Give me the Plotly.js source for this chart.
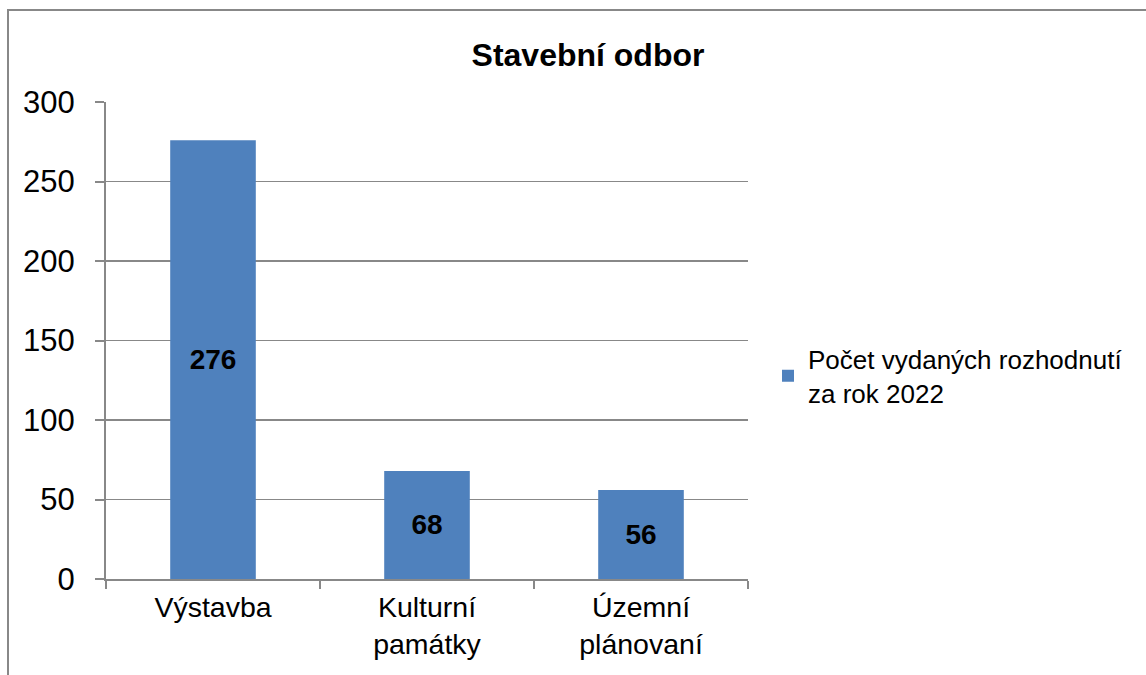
<!DOCTYPE html>
<html>
<head>
<meta charset="utf-8">
<script src="https://cdn.plot.ly/plotly-3.0.1.min.js"></script>
<style>
html,body{margin:0;padding:0;background:#fff;}
#chart{width:1146px;height:675px;}
</style>
</head>
<body>
<div id="chart"></div>
<script>
const categories = ["Výstavba", "Kulturní<br>památky", "Územní<br>plánovaní"];
const values = [276, 68, 56];
const seriesName = "Počet vydaných rozhodnutí<br>za rok 2022";
const chartTitle = "Stavební odbor";
const yTicks = [0, 50, 100, 150, 200, 250, 300];

const L = 106, R = 748, T = 102, B = 579, W = 1146, H = 675;
const px = x => (x - L) / (R - L);
const py = y => (B - y) / (B - T);

const trace = {
  type: "bar",
  x: categories,
  y: values,
  name: seriesName,
  width: 0.4,
  marker: {color: "#4F81BD"},
  text: values.map(String),
  textposition: "inside",
  insidetextanchor: "middle",
  textfont: {family: "Liberation Sans, Arial, sans-serif", size: 28, color: "#000", weight: "bold"},
  showlegend: true
};

const layout = {
  width: W, height: H,
  margin: {l: L, r: W - R, t: T, b: H - B, pad: 0},
  paper_bgcolor: "#fff",
  plot_bgcolor: "#fff",
  font: {family: "Liberation Sans, Arial, sans-serif", color: "#000"},
  title: {
    text: "<b>" + chartTitle + "</b>",
    font: {size: 32, color: "#000"},
    xref: "container", x: 588 / W, xanchor: "center",
    yref: "container", y: 1 - 55 / H, yanchor: "middle"
  },
  xaxis: {
    type: "category",
    tickson: "boundaries",
    ticks: "outside", ticklen: 8, tickcolor: "#888", tickwidth: 2,
    showline: true, linecolor: "#888", linewidth: 2,
    showgrid: false,
    tickfont: {size: 28.5, color: "#000"},
    ticklabelstandoff: 2,
    fixedrange: true
  },
  yaxis: {
    range: [0, 300],
    tickvals: yTicks,
    ticks: "outside", ticklen: 9, tickcolor: "#888", tickwidth: 2,
    showline: true, linecolor: "#888", linewidth: 2,
    showgrid: true, gridcolor: "#888", gridwidth: 1.5,
    zeroline: false,
    tickfont: {size: 31, color: "#000"},
    ticklabelstandoff: 14,
    fixedrange: true
  },
  legend: {
    x: px(768), xanchor: "left",
    y: py(376), yanchor: "middle",
    font: {size: 26, color: "#000"},
    bgcolor: "rgba(0,0,0,0)",
    itemwidth: 30
  },
  shapes: [{
    type: "path", xref: "paper", yref: "paper",
    path: `M ${px(8)} ${py(H + 5)} L ${px(8)} ${py(10)} L ${px(W + 5)} ${py(10)}`,
    line: {color: "#888", width: 2}
  }],
  bargap: 0.6
};

Plotly.newPlot("chart", [trace], layout, {displayModeBar: false, staticPlot: true});
</script>
</body>
</html>
